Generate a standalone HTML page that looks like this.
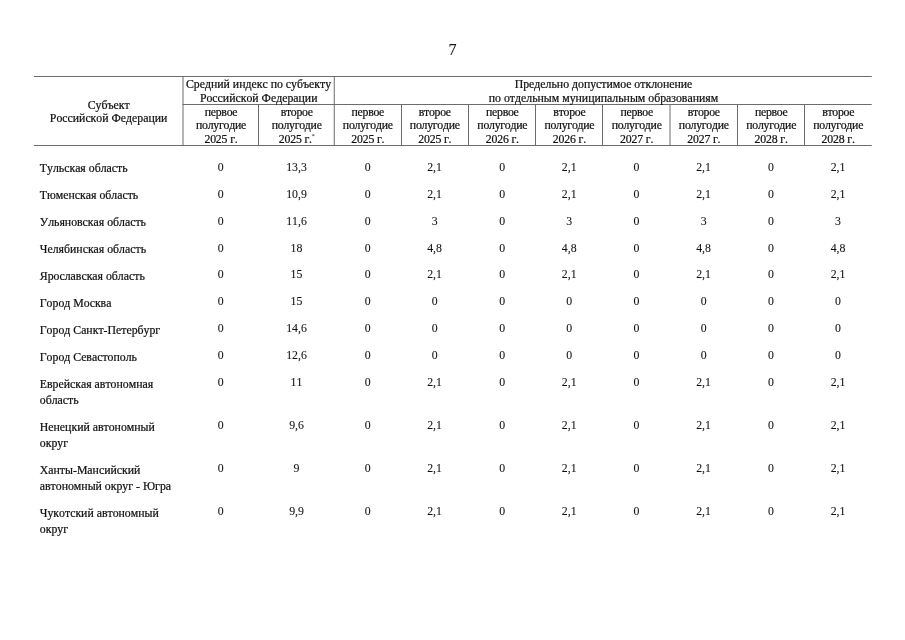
<!DOCTYPE html>
<html lang="ru"><head><meta charset="utf-8"><title>7</title>
<style>
html,body{margin:0;padding:0;background:#fff}
body{width:905px;height:640px;position:relative;overflow:hidden;font-family:"Liberation Serif",serif;font-size:11.8px;color:#111;font-kerning:none}
.t{position:absolute;white-space:nowrap;line-height:14px;-webkit-text-stroke:0.22px #111}
.c{width:300px;text-align:center}
#page{position:absolute;left:0;top:0;width:905px;height:640px;will-change:transform}
svg{position:absolute;left:0;top:0}
sup{font-size:6.5px;line-height:0;vertical-align:5px;-webkit-text-stroke-width:0;color:#111;margin-left:-0.3px}
</style></head><body>
<div id="page">
<svg width="905" height="640" viewBox="0 0 905 640" stroke="#6c6c6c" stroke-width="1" fill="none">
<line x1="34" y1="76.5" x2="871.7" y2="76.5"/>
<line x1="182.5" y1="104.5" x2="871.7" y2="104.5"/>
<line x1="34" y1="145.5" x2="871.7" y2="145.5"/>
<line x1="183.0" y1="76" x2="183.0" y2="146"/>
<line x1="334.25" y1="76" x2="334.25" y2="146"/>
<line x1="258.5" y1="104" x2="258.5" y2="146"/>
<line x1="401.5" y1="104" x2="401.5" y2="146"/>
<line x1="468.5" y1="104" x2="468.5" y2="146"/>
<line x1="535.5" y1="104" x2="535.5" y2="146"/>
<line x1="602.5" y1="104" x2="602.5" y2="146"/>
<line x1="670.0" y1="104" x2="670.0" y2="146"/>
<line x1="737.5" y1="104" x2="737.5" y2="146"/>
<line x1="804.5" y1="104" x2="804.5" y2="146"/>
</svg>
<div class="t c" style="left:302.5px;top:41px;font-size:16px;line-height:18px;-webkit-text-stroke-width:0.1px;color:#1a1a1a">7</div>
<div class="t c" style="left:-41.30px;top:98.00px;">Субъект</div>
<div class="t c" style="left:-41.40px;top:111.00px;">Российской Федерации</div>
<div class="t c" style="left:108.50px;top:77.00px;">Средний индекс по субъекту</div>
<div class="t c" style="left:108.70px;top:91.00px;">Российской Федерации</div>
<div class="t c" style="left:453.50px;top:77.00px;">Предельно допустимое отклонение</div>
<div class="t c" style="left:453.50px;top:91.00px;">по отдельным муниципальным образованиям</div>
<div class="t c" style="left:71.00px;top:105.00px;letter-spacing:-0.27px;">первое</div>
<div class="t c" style="left:71.00px;top:118.00px;letter-spacing:-0.27px;">полугодие</div>
<div class="t c" style="left:71.00px;top:132.00px;letter-spacing:-0.16px;">2025 г.</div>
<div class="t c" style="left:146.70px;top:105.00px;letter-spacing:-0.27px;">второе</div>
<div class="t c" style="left:146.70px;top:118.00px;letter-spacing:-0.27px;">полугодие</div>
<div class="t c" style="left:146.70px;top:132.00px;letter-spacing:-0.16px;">2025 г.<sup>*</sup></div>
<div class="t c" style="left:217.80px;top:105.00px;letter-spacing:-0.27px;">первое</div>
<div class="t c" style="left:217.80px;top:118.00px;letter-spacing:-0.27px;">полугодие</div>
<div class="t c" style="left:217.80px;top:132.00px;letter-spacing:-0.16px;">2025 г.</div>
<div class="t c" style="left:284.80px;top:105.00px;letter-spacing:-0.27px;">второе</div>
<div class="t c" style="left:284.80px;top:118.00px;letter-spacing:-0.27px;">полугодие</div>
<div class="t c" style="left:284.80px;top:132.00px;letter-spacing:-0.16px;">2025 г.</div>
<div class="t c" style="left:352.30px;top:105.00px;letter-spacing:-0.27px;">первое</div>
<div class="t c" style="left:352.30px;top:118.00px;letter-spacing:-0.27px;">полугодие</div>
<div class="t c" style="left:352.30px;top:132.00px;letter-spacing:-0.16px;">2026 г.</div>
<div class="t c" style="left:419.40px;top:105.00px;letter-spacing:-0.27px;">второе</div>
<div class="t c" style="left:419.40px;top:118.00px;letter-spacing:-0.27px;">полугодие</div>
<div class="t c" style="left:419.40px;top:132.00px;letter-spacing:-0.16px;">2026 г.</div>
<div class="t c" style="left:486.70px;top:105.00px;letter-spacing:-0.27px;">первое</div>
<div class="t c" style="left:486.70px;top:118.00px;letter-spacing:-0.27px;">полугодие</div>
<div class="t c" style="left:486.70px;top:132.00px;letter-spacing:-0.16px;">2027 г.</div>
<div class="t c" style="left:553.80px;top:105.00px;letter-spacing:-0.27px;">второе</div>
<div class="t c" style="left:553.80px;top:118.00px;letter-spacing:-0.27px;">полугодие</div>
<div class="t c" style="left:553.80px;top:132.00px;letter-spacing:-0.16px;">2027 г.</div>
<div class="t c" style="left:621.20px;top:105.00px;letter-spacing:-0.27px;">первое</div>
<div class="t c" style="left:621.20px;top:118.00px;letter-spacing:-0.27px;">полугодие</div>
<div class="t c" style="left:621.20px;top:132.00px;letter-spacing:-0.16px;">2028 г.</div>
<div class="t c" style="left:688.20px;top:105.00px;letter-spacing:-0.27px;">второе</div>
<div class="t c" style="left:688.20px;top:118.00px;letter-spacing:-0.27px;">полугодие</div>
<div class="t c" style="left:688.20px;top:132.00px;letter-spacing:-0.16px;">2028 г.</div>
<div class="t" style="left:39.80px;top:161.00px;">Тульская область</div>
<div class="t c" style="left:70.80px;top:160.00px;-webkit-text-stroke-width:0.08px;">0</div>
<div class="t c" style="left:146.50px;top:160.00px;-webkit-text-stroke-width:0.08px;">13,3</div>
<div class="t c" style="left:217.60px;top:160.00px;-webkit-text-stroke-width:0.08px;">0</div>
<div class="t c" style="left:284.60px;top:160.00px;-webkit-text-stroke-width:0.08px;">2,1</div>
<div class="t c" style="left:352.10px;top:160.00px;-webkit-text-stroke-width:0.08px;">0</div>
<div class="t c" style="left:419.20px;top:160.00px;-webkit-text-stroke-width:0.08px;">2,1</div>
<div class="t c" style="left:486.50px;top:160.00px;-webkit-text-stroke-width:0.08px;">0</div>
<div class="t c" style="left:553.60px;top:160.00px;-webkit-text-stroke-width:0.08px;">2,1</div>
<div class="t c" style="left:621.00px;top:160.00px;-webkit-text-stroke-width:0.08px;">0</div>
<div class="t c" style="left:688.00px;top:160.00px;-webkit-text-stroke-width:0.08px;">2,1</div>
<div class="t" style="left:39.80px;top:188.00px;">Тюменская область</div>
<div class="t c" style="left:70.80px;top:187.00px;-webkit-text-stroke-width:0.08px;">0</div>
<div class="t c" style="left:146.50px;top:187.00px;-webkit-text-stroke-width:0.08px;">10,9</div>
<div class="t c" style="left:217.60px;top:187.00px;-webkit-text-stroke-width:0.08px;">0</div>
<div class="t c" style="left:284.60px;top:187.00px;-webkit-text-stroke-width:0.08px;">2,1</div>
<div class="t c" style="left:352.10px;top:187.00px;-webkit-text-stroke-width:0.08px;">0</div>
<div class="t c" style="left:419.20px;top:187.00px;-webkit-text-stroke-width:0.08px;">2,1</div>
<div class="t c" style="left:486.50px;top:187.00px;-webkit-text-stroke-width:0.08px;">0</div>
<div class="t c" style="left:553.60px;top:187.00px;-webkit-text-stroke-width:0.08px;">2,1</div>
<div class="t c" style="left:621.00px;top:187.00px;-webkit-text-stroke-width:0.08px;">0</div>
<div class="t c" style="left:688.00px;top:187.00px;-webkit-text-stroke-width:0.08px;">2,1</div>
<div class="t" style="left:39.80px;top:215.00px;">Ульяновская область</div>
<div class="t c" style="left:70.80px;top:214.00px;-webkit-text-stroke-width:0.08px;">0</div>
<div class="t c" style="left:146.50px;top:214.00px;-webkit-text-stroke-width:0.08px;">11,6</div>
<div class="t c" style="left:217.60px;top:214.00px;-webkit-text-stroke-width:0.08px;">0</div>
<div class="t c" style="left:284.60px;top:214.00px;-webkit-text-stroke-width:0.08px;">3</div>
<div class="t c" style="left:352.10px;top:214.00px;-webkit-text-stroke-width:0.08px;">0</div>
<div class="t c" style="left:419.20px;top:214.00px;-webkit-text-stroke-width:0.08px;">3</div>
<div class="t c" style="left:486.50px;top:214.00px;-webkit-text-stroke-width:0.08px;">0</div>
<div class="t c" style="left:553.60px;top:214.00px;-webkit-text-stroke-width:0.08px;">3</div>
<div class="t c" style="left:621.00px;top:214.00px;-webkit-text-stroke-width:0.08px;">0</div>
<div class="t c" style="left:688.00px;top:214.00px;-webkit-text-stroke-width:0.08px;">3</div>
<div class="t" style="left:39.80px;top:242.00px;">Челябинская область</div>
<div class="t c" style="left:70.80px;top:241.00px;-webkit-text-stroke-width:0.08px;">0</div>
<div class="t c" style="left:146.50px;top:241.00px;-webkit-text-stroke-width:0.08px;">18</div>
<div class="t c" style="left:217.60px;top:241.00px;-webkit-text-stroke-width:0.08px;">0</div>
<div class="t c" style="left:284.60px;top:241.00px;-webkit-text-stroke-width:0.08px;">4,8</div>
<div class="t c" style="left:352.10px;top:241.00px;-webkit-text-stroke-width:0.08px;">0</div>
<div class="t c" style="left:419.20px;top:241.00px;-webkit-text-stroke-width:0.08px;">4,8</div>
<div class="t c" style="left:486.50px;top:241.00px;-webkit-text-stroke-width:0.08px;">0</div>
<div class="t c" style="left:553.60px;top:241.00px;-webkit-text-stroke-width:0.08px;">4,8</div>
<div class="t c" style="left:621.00px;top:241.00px;-webkit-text-stroke-width:0.08px;">0</div>
<div class="t c" style="left:688.00px;top:241.00px;-webkit-text-stroke-width:0.08px;">4,8</div>
<div class="t" style="left:39.80px;top:269.00px;">Ярославская область</div>
<div class="t c" style="left:70.80px;top:267.00px;-webkit-text-stroke-width:0.08px;">0</div>
<div class="t c" style="left:146.50px;top:267.00px;-webkit-text-stroke-width:0.08px;">15</div>
<div class="t c" style="left:217.60px;top:267.00px;-webkit-text-stroke-width:0.08px;">0</div>
<div class="t c" style="left:284.60px;top:267.00px;-webkit-text-stroke-width:0.08px;">2,1</div>
<div class="t c" style="left:352.10px;top:267.00px;-webkit-text-stroke-width:0.08px;">0</div>
<div class="t c" style="left:419.20px;top:267.00px;-webkit-text-stroke-width:0.08px;">2,1</div>
<div class="t c" style="left:486.50px;top:267.00px;-webkit-text-stroke-width:0.08px;">0</div>
<div class="t c" style="left:553.60px;top:267.00px;-webkit-text-stroke-width:0.08px;">2,1</div>
<div class="t c" style="left:621.00px;top:267.00px;-webkit-text-stroke-width:0.08px;">0</div>
<div class="t c" style="left:688.00px;top:267.00px;-webkit-text-stroke-width:0.08px;">2,1</div>
<div class="t" style="left:39.80px;top:296.00px;">Город Москва</div>
<div class="t c" style="left:70.80px;top:294.00px;-webkit-text-stroke-width:0.08px;">0</div>
<div class="t c" style="left:146.50px;top:294.00px;-webkit-text-stroke-width:0.08px;">15</div>
<div class="t c" style="left:217.60px;top:294.00px;-webkit-text-stroke-width:0.08px;">0</div>
<div class="t c" style="left:284.60px;top:294.00px;-webkit-text-stroke-width:0.08px;">0</div>
<div class="t c" style="left:352.10px;top:294.00px;-webkit-text-stroke-width:0.08px;">0</div>
<div class="t c" style="left:419.20px;top:294.00px;-webkit-text-stroke-width:0.08px;">0</div>
<div class="t c" style="left:486.50px;top:294.00px;-webkit-text-stroke-width:0.08px;">0</div>
<div class="t c" style="left:553.60px;top:294.00px;-webkit-text-stroke-width:0.08px;">0</div>
<div class="t c" style="left:621.00px;top:294.00px;-webkit-text-stroke-width:0.08px;">0</div>
<div class="t c" style="left:688.00px;top:294.00px;-webkit-text-stroke-width:0.08px;">0</div>
<div class="t" style="left:39.80px;top:323.00px;">Город Санкт-Петербург</div>
<div class="t c" style="left:70.80px;top:321.00px;-webkit-text-stroke-width:0.08px;">0</div>
<div class="t c" style="left:146.50px;top:321.00px;-webkit-text-stroke-width:0.08px;">14,6</div>
<div class="t c" style="left:217.60px;top:321.00px;-webkit-text-stroke-width:0.08px;">0</div>
<div class="t c" style="left:284.60px;top:321.00px;-webkit-text-stroke-width:0.08px;">0</div>
<div class="t c" style="left:352.10px;top:321.00px;-webkit-text-stroke-width:0.08px;">0</div>
<div class="t c" style="left:419.20px;top:321.00px;-webkit-text-stroke-width:0.08px;">0</div>
<div class="t c" style="left:486.50px;top:321.00px;-webkit-text-stroke-width:0.08px;">0</div>
<div class="t c" style="left:553.60px;top:321.00px;-webkit-text-stroke-width:0.08px;">0</div>
<div class="t c" style="left:621.00px;top:321.00px;-webkit-text-stroke-width:0.08px;">0</div>
<div class="t c" style="left:688.00px;top:321.00px;-webkit-text-stroke-width:0.08px;">0</div>
<div class="t" style="left:39.80px;top:350.00px;">Город Севастополь</div>
<div class="t c" style="left:70.80px;top:348.00px;-webkit-text-stroke-width:0.08px;">0</div>
<div class="t c" style="left:146.50px;top:348.00px;-webkit-text-stroke-width:0.08px;">12,6</div>
<div class="t c" style="left:217.60px;top:348.00px;-webkit-text-stroke-width:0.08px;">0</div>
<div class="t c" style="left:284.60px;top:348.00px;-webkit-text-stroke-width:0.08px;">0</div>
<div class="t c" style="left:352.10px;top:348.00px;-webkit-text-stroke-width:0.08px;">0</div>
<div class="t c" style="left:419.20px;top:348.00px;-webkit-text-stroke-width:0.08px;">0</div>
<div class="t c" style="left:486.50px;top:348.00px;-webkit-text-stroke-width:0.08px;">0</div>
<div class="t c" style="left:553.60px;top:348.00px;-webkit-text-stroke-width:0.08px;">0</div>
<div class="t c" style="left:621.00px;top:348.00px;-webkit-text-stroke-width:0.08px;">0</div>
<div class="t c" style="left:688.00px;top:348.00px;-webkit-text-stroke-width:0.08px;">0</div>
<div class="t" style="left:39.80px;top:377.00px;">Еврейская автономная</div>
<div class="t" style="left:39.80px;top:393.00px;">область</div>
<div class="t c" style="left:70.80px;top:375.00px;-webkit-text-stroke-width:0.08px;">0</div>
<div class="t c" style="left:146.50px;top:375.00px;-webkit-text-stroke-width:0.08px;">11</div>
<div class="t c" style="left:217.60px;top:375.00px;-webkit-text-stroke-width:0.08px;">0</div>
<div class="t c" style="left:284.60px;top:375.00px;-webkit-text-stroke-width:0.08px;">2,1</div>
<div class="t c" style="left:352.10px;top:375.00px;-webkit-text-stroke-width:0.08px;">0</div>
<div class="t c" style="left:419.20px;top:375.00px;-webkit-text-stroke-width:0.08px;">2,1</div>
<div class="t c" style="left:486.50px;top:375.00px;-webkit-text-stroke-width:0.08px;">0</div>
<div class="t c" style="left:553.60px;top:375.00px;-webkit-text-stroke-width:0.08px;">2,1</div>
<div class="t c" style="left:621.00px;top:375.00px;-webkit-text-stroke-width:0.08px;">0</div>
<div class="t c" style="left:688.00px;top:375.00px;-webkit-text-stroke-width:0.08px;">2,1</div>
<div class="t" style="left:39.80px;top:420.00px;">Ненецкий автономный</div>
<div class="t" style="left:39.80px;top:436.00px;">округ</div>
<div class="t c" style="left:70.80px;top:418.00px;-webkit-text-stroke-width:0.08px;">0</div>
<div class="t c" style="left:146.50px;top:418.00px;-webkit-text-stroke-width:0.08px;">9,6</div>
<div class="t c" style="left:217.60px;top:418.00px;-webkit-text-stroke-width:0.08px;">0</div>
<div class="t c" style="left:284.60px;top:418.00px;-webkit-text-stroke-width:0.08px;">2,1</div>
<div class="t c" style="left:352.10px;top:418.00px;-webkit-text-stroke-width:0.08px;">0</div>
<div class="t c" style="left:419.20px;top:418.00px;-webkit-text-stroke-width:0.08px;">2,1</div>
<div class="t c" style="left:486.50px;top:418.00px;-webkit-text-stroke-width:0.08px;">0</div>
<div class="t c" style="left:553.60px;top:418.00px;-webkit-text-stroke-width:0.08px;">2,1</div>
<div class="t c" style="left:621.00px;top:418.00px;-webkit-text-stroke-width:0.08px;">0</div>
<div class="t c" style="left:688.00px;top:418.00px;-webkit-text-stroke-width:0.08px;">2,1</div>
<div class="t" style="left:39.80px;top:463.00px;">Ханты-Мансийский</div>
<div class="t" style="left:39.80px;top:479.00px;">автономный округ - Югра</div>
<div class="t c" style="left:70.80px;top:461.00px;-webkit-text-stroke-width:0.08px;">0</div>
<div class="t c" style="left:146.50px;top:461.00px;-webkit-text-stroke-width:0.08px;">9</div>
<div class="t c" style="left:217.60px;top:461.00px;-webkit-text-stroke-width:0.08px;">0</div>
<div class="t c" style="left:284.60px;top:461.00px;-webkit-text-stroke-width:0.08px;">2,1</div>
<div class="t c" style="left:352.10px;top:461.00px;-webkit-text-stroke-width:0.08px;">0</div>
<div class="t c" style="left:419.20px;top:461.00px;-webkit-text-stroke-width:0.08px;">2,1</div>
<div class="t c" style="left:486.50px;top:461.00px;-webkit-text-stroke-width:0.08px;">0</div>
<div class="t c" style="left:553.60px;top:461.00px;-webkit-text-stroke-width:0.08px;">2,1</div>
<div class="t c" style="left:621.00px;top:461.00px;-webkit-text-stroke-width:0.08px;">0</div>
<div class="t c" style="left:688.00px;top:461.00px;-webkit-text-stroke-width:0.08px;">2,1</div>
<div class="t" style="left:39.80px;top:506.00px;">Чукотский автономный</div>
<div class="t" style="left:39.80px;top:522.00px;">округ</div>
<div class="t c" style="left:70.80px;top:504.00px;-webkit-text-stroke-width:0.08px;">0</div>
<div class="t c" style="left:146.50px;top:504.00px;-webkit-text-stroke-width:0.08px;">9,9</div>
<div class="t c" style="left:217.60px;top:504.00px;-webkit-text-stroke-width:0.08px;">0</div>
<div class="t c" style="left:284.60px;top:504.00px;-webkit-text-stroke-width:0.08px;">2,1</div>
<div class="t c" style="left:352.10px;top:504.00px;-webkit-text-stroke-width:0.08px;">0</div>
<div class="t c" style="left:419.20px;top:504.00px;-webkit-text-stroke-width:0.08px;">2,1</div>
<div class="t c" style="left:486.50px;top:504.00px;-webkit-text-stroke-width:0.08px;">0</div>
<div class="t c" style="left:553.60px;top:504.00px;-webkit-text-stroke-width:0.08px;">2,1</div>
<div class="t c" style="left:621.00px;top:504.00px;-webkit-text-stroke-width:0.08px;">0</div>
<div class="t c" style="left:688.00px;top:504.00px;-webkit-text-stroke-width:0.08px;">2,1</div>
</div>
</body></html>
